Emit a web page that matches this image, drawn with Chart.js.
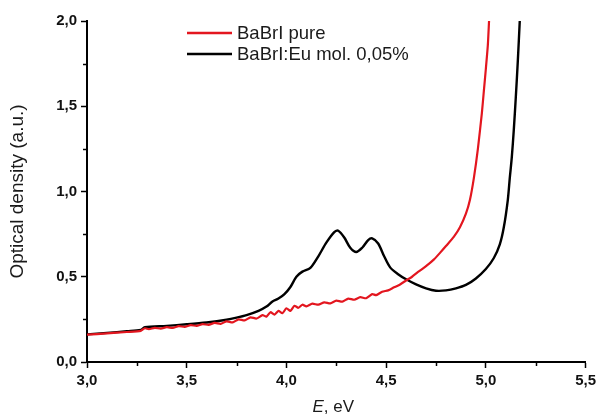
<!DOCTYPE html>
<html>
<head>
<meta charset="utf-8">
<script src="https://cdn.jsdelivr.net/npm/chart.js@4"></script>
<style>
  html, body { margin: 0; padding: 0; background: #fff; }
  #wrap { width: 600px; height: 415px; }
</style>
</head>
<body>
<div id="wrap"><canvas id="chart" width="600" height="415"></canvas></div>
<script>
// series labels
const seriesLabels = ['BaBrI pure', 'BaBrI:Eu mol. 0,05%'];

// BaBrI pure (red) - photon energy, eV / optical density
const pureE = [
  3.00, 3.10, 3.20, 3.27, 3.29, 3.31, 3.34, 3.37, 3.40, 3.43, 3.46, 3.49, 3.52, 3.55,
  3.58, 3.61, 3.64, 3.67, 3.70, 3.73, 3.76, 3.79, 3.82, 3.85, 3.88, 3.90, 3.92, 3.94,
  3.96, 3.98, 4.00, 4.02, 4.04, 4.06, 4.08, 4.10, 4.13, 4.16, 4.19, 4.22, 4.25, 4.28,
  4.31, 4.34, 4.37, 4.40, 4.43, 4.45, 4.48, 4.51, 4.54, 4.57, 4.60, 4.63, 4.66, 4.70,
  4.74, 4.77, 4.80, 4.84, 4.87, 4.90, 4.92, 4.94, 4.96, 4.98, 4.99, 5.00, 5.01, 5.016
];
const pureOD = [
  0.160, 0.168, 0.176, 0.183, 0.198, 0.193, 0.200, 0.196, 0.204, 0.200, 0.210, 0.206, 0.216, 0.212,
  0.222, 0.218, 0.229, 0.224, 0.238, 0.232, 0.250, 0.244, 0.262, 0.255, 0.275, 0.266, 0.292, 0.278,
  0.300, 0.286, 0.315, 0.300, 0.330, 0.318, 0.336, 0.326, 0.342, 0.336, 0.350, 0.344, 0.360, 0.354,
  0.372, 0.365, 0.380, 0.374, 0.398, 0.392, 0.412, 0.420, 0.438, 0.455, 0.478, 0.500, 0.528, 0.562,
  0.602, 0.640, 0.680, 0.735, 0.790, 0.870, 0.950, 1.080, 1.250, 1.460, 1.590, 1.720, 1.860, 2.000
];

// BaBrI:Eu (black)
const euE = [
  3.00, 3.10, 3.20, 3.27, 3.29, 3.40, 3.50, 3.60, 3.70, 3.75, 3.80, 3.86, 3.90, 3.93,
  3.96, 3.99, 4.02, 4.05, 4.08, 4.12, 4.16, 4.20, 4.24, 4.26, 4.29, 4.32, 4.35, 4.38,
  4.41, 4.43, 4.46, 4.49, 4.52, 4.56, 4.60, 4.65, 4.70, 4.75, 4.80, 4.85, 4.90, 4.95,
  5.00, 5.04, 5.07, 5.09, 5.11, 5.12, 5.13, 5.14, 5.15, 5.16, 5.17
];
const euOD = [
  0.162, 0.171, 0.180, 0.188, 0.204, 0.212, 0.221, 0.232, 0.248, 0.260, 0.275, 0.300, 0.325, 0.355,
  0.372, 0.398, 0.440, 0.500, 0.530, 0.552, 0.620, 0.700, 0.762, 0.770, 0.730, 0.670, 0.645, 0.670,
  0.715, 0.725, 0.695, 0.620, 0.555, 0.515, 0.485, 0.455, 0.432, 0.418, 0.420, 0.432, 0.452, 0.490,
  0.545, 0.610, 0.690, 0.790, 0.950, 1.080, 1.200, 1.360, 1.550, 1.760, 2.000
];

// axis ranges
const xRange = [3.0, 5.5];
const yRange = [0.0, 2.0];

const toPoints = (xs, ys) => xs.map((x, i) => ({ x: x, y: ys[i] }));
const isMajor = v => Math.abs(v * 2 - Math.round(v * 2)) < 1e-6;
const fmt = v => isMajor(v) ? v.toFixed(1).replace('.', ',') : '';

// short minor ticks + legend + x title with italic E
const decorPlugin = {
  id: 'decor',
  afterDraw(chart) {
    const ctx = chart.ctx;
    const xs = chart.scales.x, ys = chart.scales.y;
    ctx.save();
    ctx.strokeStyle = '#000';
    ctx.lineWidth = 1.5;
    xs.ticks.forEach(t => {
      if (isMajor(t.value)) return;
      const px = Math.round(xs.getPixelForValue(t.value)) + 0.5;
      ctx.beginPath(); ctx.moveTo(px, xs.top); ctx.lineTo(px, xs.top + 4); ctx.stroke();
    });
    ys.ticks.forEach(t => {
      if (isMajor(t.value)) return;
      const py = Math.round(ys.getPixelForValue(t.value)) + 0.5;
      ctx.beginPath(); ctx.moveTo(ys.right, py); ctx.lineTo(ys.right - 4, py); ctx.stroke();
    });

    // legend
    ctx.textBaseline = 'middle';
    ctx.textAlign = 'left';
    ctx.font = '18.5px "Liberation Sans", Arial, sans-serif';
    chart.data.datasets.forEach((ds, i) => {
      const y = 33 + i * 21;
      ctx.strokeStyle = ds.borderColor;
      ctx.lineWidth = 2.6;
      ctx.beginPath(); ctx.moveTo(187, y); ctx.lineTo(232, y); ctx.stroke();
      ctx.fillStyle = '#1a1a1a';
      ctx.fillText(ds.label, 237, y + 1);
    });

    // x title
    const cx = (chart.chartArea.left + chart.chartArea.right) / 2;
    ctx.font = 'italic 17px "Liberation Sans", Arial, sans-serif';
    const wE = ctx.measureText('E').width;
    ctx.font = '17px "Liberation Sans", Arial, sans-serif';
    const wRest = ctx.measureText(', eV').width;
    const x0 = cx - (wE + wRest) / 2 - 3;
    ctx.fillStyle = '#1a1a1a';
    ctx.font = 'italic 17px "Liberation Sans", Arial, sans-serif';
    ctx.fillText('E', x0, 407);
    ctx.font = '17px "Liberation Sans", Arial, sans-serif';
    ctx.fillText(', eV', x0 + wE, 407);
    ctx.restore();
  }
};

const tickFont = { family: '"Liberation Sans", Arial, sans-serif', size: 15, weight: 'bold' };

new Chart(document.getElementById('chart'), {
  type: 'line',
  data: {
    datasets: [
      {
        label: seriesLabels[0],
        data: toPoints(pureE, pureOD),
        borderColor: '#e3161f',
        borderWidth: 2.2,
        pointRadius: 0,
        tension: 0.2,
      },
      {
        label: seriesLabels[1],
        data: toPoints(euE, euOD),
        borderColor: '#000000',
        borderWidth: 2.4,
        pointRadius: 0,
        tension: 0.3,
      },
    ],
  },
  options: {
    responsive: false,
    devicePixelRatio: 1,
    animation: false,
    layout: { padding: { top: 21, right: 12, left: 0, bottom: 0 } },
    plugins: {
      legend: { display: false },
      tooltip: { enabled: false },
    },
    scales: {
      x: {
        type: 'linear',
        min: xRange[0],
        max: xRange[1],
        afterFit: s => { s.height = 53; },
        border: { display: true, color: '#000', width: 2 },
        grid: {
          drawOnChartArea: false,
          tickLength: 6,
          tickWidth: 1.5,
          tickColor: c => isMajor(c.tick.value) ? '#000' : 'rgba(0,0,0,0)',
        },
        ticks: {
          stepSize: 0.25,
          autoSkip: false,
          maxRotation: 0,
          padding: 4,
          color: '#111',
          font: tickFont,
          callback: v => fmt(v),
        },
      },
      y: {
        min: yRange[0],
        max: yRange[1],
        afterFit: s => { s.width = 87; },
        border: { display: true, color: '#000', width: 2 },
        grid: {
          drawOnChartArea: false,
          tickLength: 6,
          tickWidth: 1.5,
          tickColor: c => isMajor(c.tick.value) ? '#000' : 'rgba(0,0,0,0)',
        },
        ticks: {
          stepSize: 0.25,
          autoSkip: false,
          padding: 4,
          color: '#111',
          font: tickFont,
          callback: v => fmt(v),
        },
        title: {
          display: true,
          text: 'Optical density (a.u.)',
          color: '#1a1a1a',
          font: { family: '"Liberation Sans", Arial, sans-serif', size: 19 },
          padding: { top: 6, bottom: 0 },
        },
      },
    },
  },
  plugins: [decorPlugin],
});
</script>
</body>
</html>
